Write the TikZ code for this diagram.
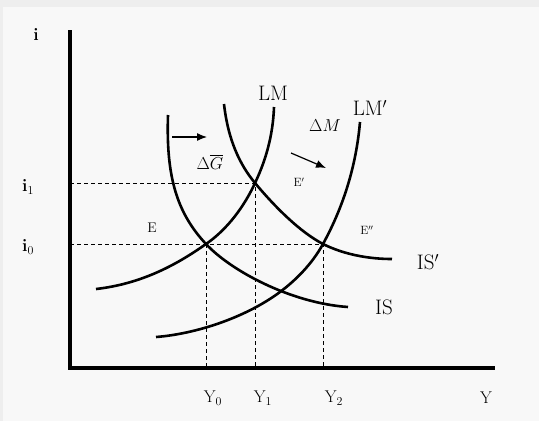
\documentclass[tikz,border=0pt]{standalone}
\usepackage{amsmath,amssymb}
\usepackage{xcolor}
\usepackage{tikz}
\usetikzlibrary{arrows.meta}
\definecolor{pagebg}{HTML}{F8F8F8}
\definecolor{bandbg}{HTML}{EEEEEE}
\definecolor{inkc}{HTML}{000000}
\tikzset{
  axis/.style={inkc,line width=4.5pt},
  curve/.style={inkc,line width=2.6pt},
  guide/.style={inkc,line width=0.9pt,dash pattern=on 4pt off 3pt},
  shift arrow/.style={-{Latex[length=10pt,width=8pt]},inkc,line width=1.2pt},
  big/.style={font=\fontsize{21}{24}\selectfont},
  mid/.style={font=\fontsize{17}{19}\selectfont},
  small/.style={font=\fontsize{14}{16}\selectfont},
  tiny/.style={font=\fontsize{12}{14}\selectfont}
}

\begin{document}
\begin{tikzpicture}[x=1pt,y=-1pt]
\useasboundingbox (0,0) rectangle (539,421);
\fill[pagebg] (0,0) rectangle (539,421);
\fill[bandbg] (0,0) rectangle (539,7);
\fill[bandbg] (0,0) rectangle (3,421);

% axes
\coordinate (O) at (70,368);
\coordinate (top) at (70,30);
\coordinate (right) at (495,368);
\draw[axis] (top) -- (O) -- (right);

% equilibria
\coordinate (E0) at (206,244);
\coordinate (E1) at (255,183);
\coordinate (E2) at (323,244);
\coordinate (X) at (280,292);
\coordinate (y0) at (E0 |- O);
\coordinate (y1) at (E1 |- O);
\coordinate (y2) at (E2 |- O);
\coordinate (i0) at (O |- E0);
\coordinate (i1) at (O |- E1);

% IS, IS'
\draw[curve] (168,115) .. controls (166,175) and (176,212) .. (E0)
  .. controls (230,270) and (290,303) .. (348,307);
\draw[curve] (224,104) .. controls (228,140) and (240,165) .. (E1)
  .. controls (275,207) and (300,232) .. (E2)
  .. controls (345,255) and (370,259) .. (392,259);
% LM, LM'
\draw[curve] (96,289) .. controls (140,284) and (175,266) .. (E0)
  .. controls (228,229) and (245,205) .. (E1)
  .. controls (266,160) and (273,135) .. (274,107);
\draw[curve] (156,337) .. controls (195,334) and (245,318) .. (X)
  .. controls (296,280) and (312,264) .. (E2)
  .. controls (335,222) and (355,180) .. (360,122);

% guides
\draw[guide] (i1) -- (E1) -- (y1);
\draw[guide] (i0) -- (E2) -- (y2);
\draw[guide] (E0) -- (y0);

% shifts
\coordinate (g1) at (172,137);
\coordinate (g2) at (207,137);
\coordinate (m1) at (291,153);
\coordinate (m2) at (326,168);
\draw[shift arrow] (g1) -- (g2);
\draw[shift arrow] (m1) -- (m2);

% labels
\node[big] (lLM) at (273,93) {LM};
\node[big] (lLMp) at (370,108) {LM$'$};
\node[big] (lISp) at (428,262) {IS$'$};
\node[big] (lIS) at (384,307) {IS};
\node[mid] (lDM) at (325,126) {$\Delta M$};
\node[mid] (lDG) at (210,162) {$\Delta\overline{G}$};
\node[small] (lE) at (152,228) {E};
\node[tiny] (lE1) at (299,182) {E$'$};
\node[tiny] (lE2) at (367,230) {E$''$};
\node[mid] (li) at (36,34) {$\mathbf{i}$};
\node[mid] (li1) at (28,187) {$\mathbf{i}_1$};
\node[mid] (li0) at (28,247) {$\mathbf{i}_0$};
\node[mid] (lY0) at (213,398) {Y$_0$};
\node[mid] (lY1) at (263,398) {Y$_1$};
\node[mid] (lY2) at (334,398) {Y$_2$};
\node[mid] (lY) at (486,398) {Y};
\end{tikzpicture}
\end{document}
